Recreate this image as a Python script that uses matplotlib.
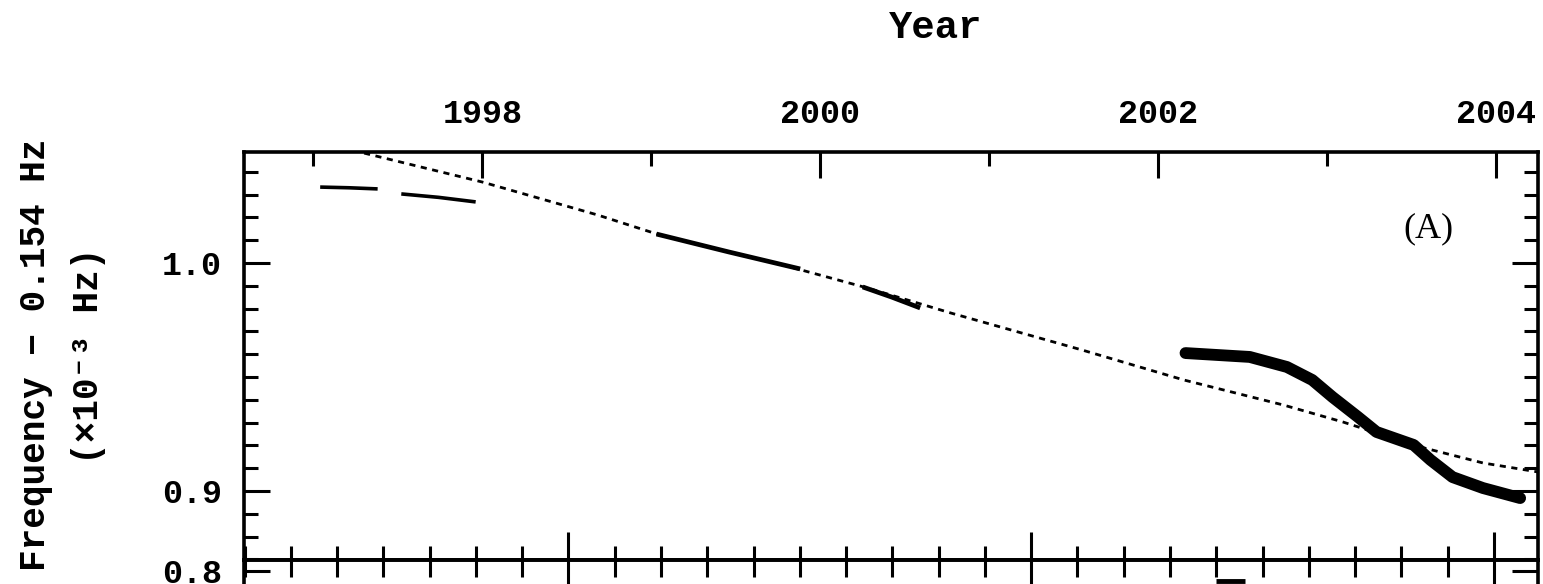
import numpy as np
import matplotlib
matplotlib.use("Agg")
import matplotlib.pyplot as plt
from matplotlib.ticker import MultipleLocator

# model curve (dotted), x in years, y in 1e-3 Hz above 0.154 Hz
model_year = [1997.30, 1998.00, 1998.68, 1999.05, 1999.78, 2000.28, 2000.77,
              2001.55, 2002.15, 2002.74, 2003.09, 2003.55, 2003.92, 2004.25]
model_freq = [1.0482, 1.0355, 1.0211, 1.0123, 0.9991, 0.9890, 0.9781,
              0.9618, 0.9487, 0.9377, 0.9303, 0.9193, 0.9123, 0.9083]

# measured segments
seg1_year = [1997.04, 1997.21, 1997.38]
seg1_freq = [1.0333, 1.0330, 1.0325]
seg2_year = [1997.52, 1997.74, 1997.96]
seg2_freq = [1.0303, 1.0288, 1.0268]
seg3_year = [1999.03, 1999.46, 1999.88]
seg3_freq = [1.0127, 1.0048, 0.9974]
seg4_year = [2000.25, 2000.42, 2000.59]
seg4_freq = [0.9895, 0.9851, 0.9803]

# recent data (thick)
recent_year = [2002.16, 2002.54, 2002.76, 2002.91, 2003.03, 2003.18, 2003.29,
               2003.51, 2003.61, 2003.74, 2003.92, 2004.14]
recent_freq = [0.9605, 0.9588, 0.9544, 0.9487, 0.9412, 0.9325, 0.9259,
               0.9202, 0.9136, 0.9061, 0.9013, 0.8969]

# panel B (only its top edge is visible)
panelb_year = [2002.34, 2002.51]
panelb_freq = [0.7955, 0.7955]

year_ticks = [1998, 2000, 2002, 2004]

MONO = ["Liberation Mono", "DejaVu Sans Mono"]


def yr2mjd(y):
    return 51544.5 + (np.asarray(y) - 2000.0) * 365.25


def mjd2yr(m):
    return 2000.0 + (np.asarray(m) - 51544.5) / 365.25


fig = plt.figure(figsize=(15.43, 5.84), dpi=100)
ax = fig.add_axes([0.1581, 0.0411, 0.8387, 0.6986])
axb = fig.add_axes([0.1581, 0.0411 - 0.6, 0.8387, 0.6])

xlim = (1996.589, 2004.246)

ax.plot(model_year, model_freq, color="black", lw=2.0, ls=(0, (2.2, 2.0)))
for yy, ff in [(seg1_year, seg1_freq), (seg2_year, seg2_freq)]:
    ax.plot(yy, ff, color="black", lw=2.6, solid_capstyle="butt")
for yy, ff in [(seg3_year, seg3_freq), (seg4_year, seg4_freq)]:
    ax.plot(yy, ff, color="black", lw=3.4, solid_capstyle="butt")
ax.plot(recent_year, recent_freq, color="black", lw=8.5,
        solid_capstyle="round", solid_joinstyle="round")

ax.set_xlim(*xlim)
ax.set_ylim(0.86974, 1.04868)

for a in (ax, axb):
    for s in a.spines.values():
        s.set_linewidth(2.6)

ax.xaxis.set_ticks_position("top")
ax.xaxis.set_label_position("top")
ax.set_xticks(year_ticks)
ax.set_xticklabels([str(y) for y in year_ticks])
ax.xaxis.set_minor_locator(MultipleLocator(1))
ax.yaxis.set_major_locator(MultipleLocator(0.1))
ax.yaxis.set_minor_locator(MultipleLocator(0.01))
ax.yaxis.set_major_formatter(plt.FormatStrFormatter("%.1f"))
ax.tick_params(which="both", direction="in", width=2.2, left=True, right=True,
               top=True, bottom=False, labelbottom=False, labeltop=True, pad=16)
ax.tick_params(which="major", length=19)
ax.tick_params(which="minor", length=10)
for lab in ax.get_xticklabels() + ax.get_yticklabels():
    lab.set_family(MONO)
    lab.set_fontsize(24)
    lab.set_fontweight("bold")

sec = ax.secondary_xaxis("bottom", functions=(yr2mjd, mjd2yr))
sec.xaxis.set_major_locator(MultipleLocator(1000))
sec.xaxis.set_minor_locator(MultipleLocator(100))
sec.tick_params(which="both", direction="in", width=2.2, labelbottom=False)
sec.tick_params(which="major", length=20)
sec.tick_params(which="minor", length=10)
sec.spines["bottom"].set_linewidth(2.6)

ax.text(0.915, 0.812, "(A)", transform=ax.transAxes, ha="center", va="center",
        fontsize=26, family=["Liberation Serif", "DejaVu Serif"])

# panel B, mostly outside the picture
axb.plot(panelb_year, panelb_freq, color="black", lw=3.5, solid_capstyle="butt")
axb.set_xlim(*xlim)
axb.set_ylim(0.8048 - 0.6 * 584 / 2280, 0.8048)
axb.yaxis.set_major_locator(MultipleLocator(0.1))
axb.yaxis.set_minor_locator(MultipleLocator(0.01))
axb.yaxis.set_major_formatter(plt.FormatStrFormatter("%.1f"))
axb.tick_params(which="both", direction="in", width=2.2, left=True, right=True,
                top=False, bottom=False, labelbottom=False, pad=16)
axb.tick_params(which="major", length=19)
axb.tick_params(which="minor", length=10)
for lab in axb.get_yticklabels():
    lab.set_family(MONO)
    lab.set_fontsize(24)
    lab.set_fontweight("bold")
secb = axb.secondary_xaxis("top", functions=(yr2mjd, mjd2yr))
secb.xaxis.set_major_locator(MultipleLocator(1000))
secb.xaxis.set_minor_locator(MultipleLocator(100))
secb.tick_params(which="both", direction="in", width=2.2, labeltop=False)
secb.tick_params(which="major", length=20)
secb.tick_params(which="minor", length=12)
secb.spines["top"].set_linewidth(2.6)

fig.text(936 / 1543, 1 - 28 / 584, "Year", ha="center", va="center",
         fontsize=28, fontweight="bold", family=MONO)
fig.text(36 / 1543, 1 - 355 / 584, "Frequency \u2212 0.154 Hz", rotation=90,
         ha="center", va="center", fontsize=26, fontweight="bold", family=MONO)
fig.text(89 / 1543, 1 - 356 / 584, "(\u00d710\u207b\u00b3 Hz)", rotation=90,
         ha="center", va="center", fontsize=26, fontweight="bold", family=MONO)

fig.savefig("out.png", dpi=100)
